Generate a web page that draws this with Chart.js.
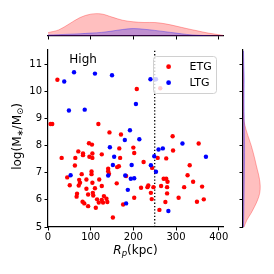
<!DOCTYPE html>
<html>
<head>
<meta charset="utf-8">
<script src="https://cdn.jsdelivr.net/npm/chart.js@4.4.1/dist/chart.umd.min.js"></script>
<style>
  html, body { margin: 0; padding: 0; background: #fff; }
  #wrap { position: relative; width: 274px; height: 274px; }
  #wrap canvas { position: absolute; }
  #main { left: 0; top: 0; }
  #top { left: 0; top: 0; }
  #side { left: 230px; top: 0; }
</style>
</head>
<body>
<div id="wrap">
  <canvas id="main" width="274" height="274"></canvas>
  <canvas id="top" width="274" height="40"></canvas>
  <canvas id="side" width="44" height="274"></canvas>
</div>
<script>
// datos
const etgR = [22, 208, 263, 6, 10, 118, 144, 171, 96, 103,
  167, 200, 202, 71, 82, 104, 126, 292, 353, 293,
  32, 82, 97, 104, 64, 169, 63, 166, 162, 244,
  224, 45, 51, 73, 75, 72, 79, 102, 102, 90,
  104, 120, 110, 90, 126, 141, 141, 143, 161, 183,
  218, 235, 233, 247, 241, 243, 94, 105, 106, 68,
  67, 81, 85, 94, 112, 115, 119, 126, 129, 131,
  137, 139, 152, 176, 202, 257, 277, 332, 327, 271,
  277, 280, 340, 265, 279, 319, 361, 279, 306, 365,
  349, 275, 261];
const etgM = [10.43, 10.09, 10.12, 8.80, 8.80, 8.80, 8.49, 8.41, 8.09, 8.04,
  7.90, 7.93, 7.73, 7.79, 7.71, 7.71, 7.68, 8.35, 8.08, 7.82,
  7.55, 7.65, 7.59, 7.55, 7.55, 7.55, 7.27, 7.24, 7.21, 7.18,
  7.40, 6.83, 6.54, 6.74, 6.63, 6.53, 6.95, 7.05, 6.95, 6.75,
  6.63, 6.75, 6.43, 6.41, 6.51, 7.15, 7.06, 6.96, 6.61, 6.88,
  6.45, 6.53, 6.47, 6.47, 6.26, 6.03, 6.20, 6.26, 6.16, 6.23,
  6.12, 5.93, 5.87, 5.77, 5.71, 6.02, 5.90, 6.00, 5.90, 6.14,
  6.04, 5.92, 5.35, 5.83, 6.08, 7.55, 7.53, 7.28, 6.91, 6.78,
  6.78, 6.67, 6.67, 6.51, 6.47, 6.47, 6.49, 6.24, 6.08, 6.02,
  5.93, 5.92, 5.63];

const ltgR = [38, 61, 110, 150, 240, 253, 49, 86, 206, 192,
  180, 214, 145, 315, 259, 269, 155, 152, 196, 249,
  53, 141, 181, 187, 194, 202, 183, 370, 241, 253,
  282];
const ltgM = [10.37, 10.71, 10.66, 10.60, 10.45, 10.45, 9.30, 9.33, 9.54, 8.57,
  8.21, 8.24, 7.94, 8.08, 7.86, 7.90, 7.59, 7.29, 7.29, 7.61,
  6.91, 6.90, 6.90, 6.37, 6.78, 6.80, 5.87, 7.59, 7.28, 7.04,
  5.59];

// curvas de densidad (altura relativa)
const kdeR = [0, 25, 50, 75, 100, 125, 150, 175, 200, 225, 250, 275, 300, 325, 350, 375, 400, 410];
const kdeEtgR = [0.15, 0.27, 0.54, 0.82, 0.97, 0.98, 0.84, 0.70, 0.63, 0.60, 0.60, 0.54, 0.44, 0.33, 0.23, 0.13, 0.06, 0.03];
const kdeLtgR = [0.045, 0.06, 0.08, 0.10, 0.13, 0.16, 0.22, 0.29, 0.33, 0.30, 0.25, 0.19, 0.13, 0.07, 0.035, 0.015, 0.005, 0];

const kdeM = [5, 5.25, 5.5, 5.75, 6, 6.25, 6.5, 6.75, 7, 7.25, 7.5, 7.75, 8, 8.25, 8.5, 8.75, 9, 9.5, 10, 10.5, 11, 11.5];
const kdeEtgM = [0.06, 0.22, 0.46, 0.67, 0.85, 0.97, 1.0, 0.96, 0.88, 0.78, 0.69, 0.59, 0.48, 0.35, 0.22, 0.11, 0.05, 0.03, 0.03, 0.03, 0.015, 0.005];
const kdeLtgM = [0.03, 0.04, 0.05, 0.055, 0.06, 0.065, 0.07, 0.075, 0.08, 0.085, 0.09, 0.09, 0.09, 0.085, 0.08, 0.075, 0.07, 0.065, 0.065, 0.07, 0.05, 0.03];

const rTicks = [0, 100, 200, 300, 400];
const mTicks = [5, 6, 7, 8, 9, 10, 11];
const rMin = 0, rMax = 410;
const mMin = 5, mMax = 11.53;
const rCut = 250;
const tagText = "High", tagR = 50, tagM = 11.05;

Chart.defaults.font.family = '"DejaVu Sans"';
Chart.defaults.color = "#000";

function puntos(xs, ys) {
  return xs.map((v, i) => ({ x: v, y: ys[i] }));
}

function fijarTicks(lista) {
  return function (s) {
    s.ticks = lista.map((v) => ({ value: v }));
  };
}

// dibuja texto con subindices, centrado en (x, y)
function dibujarTrozos(ctx, trozos, x, y) {
  let total = 0;
  trozos.forEach((t) => {
    ctx.font = t.font;
    total += ctx.measureText(t.t).width;
  });
  let px = x - total / 2;
  ctx.textBaseline = "middle";
  trozos.forEach((t) => {
    ctx.font = t.font;
    ctx.fillText(t.t, px, y + (t.dy || 0));
    px += ctx.measureText(t.t).width;
  });
}

const extras = {
  id: "extras",
  afterDatasetsDraw(chart) {
    const { ctx, chartArea: ca, scales } = chart;
    ctx.save();
    ctx.fillStyle = "#000";
    ctx.font = '12px "DejaVu Sans"';
    ctx.textBaseline = "alphabetic";
    ctx.fillText(tagText, scales.x.getPixelForValue(tagR), scales.y.getPixelForValue(tagM));

    // leyenda
    const w = 63, h = 37;
    const lx = ca.right - 7 - w, ly = ca.top + 6;
    ctx.beginPath();
    ctx.roundRect(lx + 0.5, ly + 0.5, w, h, 3);
    ctx.fillStyle = "rgba(255,255,255,0.8)";
    ctx.fill();
    ctx.strokeStyle = "#d0d0d0";
    ctx.lineWidth = 1;
    ctx.stroke();
    chart.data.datasets.filter((d) => d.label).forEach((d, i) => {
      const cy = ly + 10.7 + i * 16;
      ctx.beginPath();
      ctx.arc(lx + 15.6, cy, 2.4, 0, 2 * Math.PI);
      ctx.fillStyle = d.backgroundColor;
      ctx.fill();
      ctx.fillStyle = "#000";
      ctx.font = '11px "DejaVu Sans"';
      ctx.textBaseline = "middle";
      ctx.fillText(d.label, lx + 36.6, cy + 0.5);
    });
    ctx.restore();
  },
  afterDraw(chart) {
    const { ctx, chartArea: ca } = chart;
    ctx.save();
    ctx.fillStyle = "#000";
    dibujarTrozos(ctx, [
      { t: "R", font: 'italic 12px "DejaVu Sans"' },
      { t: "p", font: 'italic 8.5px "DejaVu Sans"', dy: 2.5 },
      { t: "(kpc)", font: '12px "DejaVu Sans"' },
    ], (ca.left + ca.right) / 2, 251);

    ctx.translate(18, (ca.top + ca.bottom) / 2 - 2);
    ctx.rotate(-Math.PI / 2);
    dibujarTrozos(ctx, [
      { t: "log(M", font: '12px "DejaVu Sans"' },
      { t: "\u2217", font: '8.5px "DejaVu Sans"', dy: 2.5 },
      { t: "/M", font: '12px "DejaVu Sans"' },
      { t: "\u2299", font: '8.5px "DejaVu Sans"', dy: 2.5 },
      { t: ")", font: '12px "DejaVu Sans"' },
    ], 0, 0);
    ctx.restore();
  },
};

const ejeBase = {
  grid: { drawOnChartArea: false, tickLength: 3.5, color: "#000", lineWidth: 1 },
  border: { color: "#000", width: 1.2 },
};

// grafico principal
new Chart(document.getElementById("main"), {
  type: "scatter",
  data: {
    datasets: [
      {
        label: "ETG",
        data: puntos(etgR, etgM),
        backgroundColor: "#ff0000",
        pointRadius: 2.2,
        pointBorderWidth: 0,
        order: 1,
      },
      {
        label: "LTG",
        data: puntos(ltgR, ltgM),
        backgroundColor: "#0000ff",
        pointRadius: 2.2,
        pointBorderWidth: 0,
        order: 0,
      },
      {
        data: [{ x: rCut, y: mMin }, { x: rCut, y: mMax }],
        showLine: true,
        borderColor: "#000",
        borderWidth: 1.3,
        borderDash: [1.3, 2],
        pointRadius: 0,
        order: 2,
      },
    ],
  },
  options: {
    responsive: false,
    animation: false,
    events: [],
    layout: { padding: { top: 50, right: 51, left: 0, bottom: 0 } },
    plugins: { legend: { display: false }, tooltip: { enabled: false } },
    scales: {
      x: {
        type: "linear",
        min: rMin,
        max: rMax,
        afterBuildTicks: fijarTicks(rTicks),
        ticks: { font: { size: 10 }, padding: 1, maxRotation: 0 },
        afterFit: (s) => { s.height = 47; },
        ...ejeBase,
      },
      y: {
        type: "linear",
        min: mMin,
        max: mMax,
        afterBuildTicks: fijarTicks(mTicks),
        ticks: { font: { size: 10 }, padding: 2.5 },
        afterFit: (s) => { s.width = 48; },
        ...ejeBase,
      },
    },
  },
  plugins: [extras],
});

// densidad marginal arriba
new Chart(document.getElementById("top"), {
  type: "line",
  data: {
    datasets: [
      {
        data: puntos(kdeR, kdeLtgR),
        borderColor: "rgba(0,0,255,0.3)",
        backgroundColor: "rgba(0,0,255,0.25)",
        fill: "origin",
        order: 0,
      },
      {
        data: puntos(kdeR, kdeEtgR),
        borderColor: "rgba(255,0,0,0.3)",
        backgroundColor: "rgba(255,0,0,0.25)",
        fill: "origin",
        order: 1,
      },
    ],
  },
  options: {
    responsive: false,
    animation: false,
    events: [],
    layout: { padding: { left: 48, right: 51, top: 0, bottom: 0 } },
    elements: { point: { radius: 0 }, line: { borderWidth: 1, tension: 0.35 } },
    plugins: { legend: { display: false }, tooltip: { enabled: false } },
    scales: {
      x: {
        type: "linear",
        min: rMin,
        max: rMax,
        afterBuildTicks: fijarTicks(rTicks),
        ticks: { callback: () => "" },
        afterFit: (s) => { s.height = 4; },
        ...ejeBase,
      },
      y: { display: false, min: 0, max: 1.6 },
    },
  },
});

// densidad marginal a la derecha
new Chart(document.getElementById("side"), {
  type: "line",
  data: {
    datasets: [
      {
        data: puntos(kdeLtgM, kdeM),
        borderColor: "rgba(0,0,255,0.3)",
        backgroundColor: "rgba(0,0,255,0.25)",
        fill: "origin",
        order: 0,
      },
      {
        data: puntos(kdeEtgM, kdeM),
        borderColor: "rgba(255,0,0,0.3)",
        backgroundColor: "rgba(255,0,0,0.25)",
        fill: "origin",
        order: 1,
      },
    ],
  },
  options: {
    indexAxis: "y",
    responsive: false,
    animation: false,
    events: [],
    layout: { padding: { top: 50, bottom: 47, left: 0, right: 0 } },
    elements: { point: { radius: 0 }, line: { borderWidth: 1, tension: 0.35 } },
    plugins: { legend: { display: false }, tooltip: { enabled: false } },
    scales: {
      y: {
        type: "linear",
        position: "left",
        min: mMin,
        max: mMax,
        afterBuildTicks: fijarTicks(mTicks),
        ticks: { callback: () => "" },
        afterFit: (s) => { s.width = 13; },
        ...ejeBase,
      },
      x: { type: "linear", display: false, min: 0, max: 1.8 },
    },
  },
});
</script>
</body>
</html>
